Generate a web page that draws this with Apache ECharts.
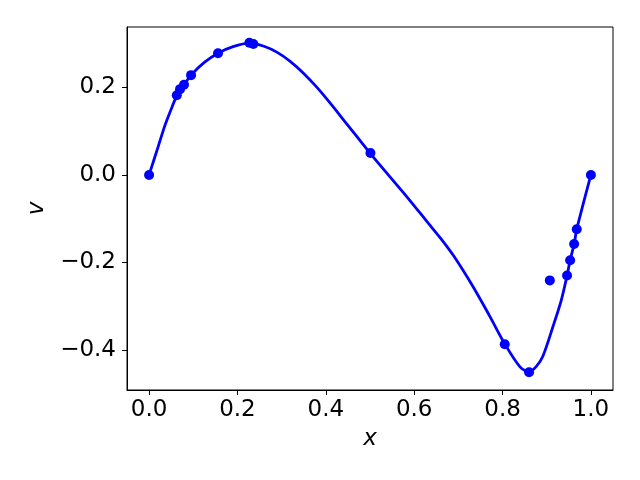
<!DOCTYPE html>
<html>
<head>
<meta charset="utf-8">
<script src="https://cdn.jsdelivr.net/npm/echarts@6/dist/echarts.min.js"></script>
<style>html,body{margin:0;padding:0;background:#fff}#c{width:640px;height:480px}</style>
</head>
<body>
<div id="c"></div>
<script>
// Sample points (markers)
const pointsX = [0.0, 0.0627, 0.070, 0.079, 0.095, 0.156, 0.227, 0.236, 0.501, 0.805, 0.860, 0.907, 0.946, 0.953, 0.962, 0.968, 1.0];
const pointsV = [0.0, 0.182, 0.196, 0.206, 0.228, 0.278, 0.302, 0.299, 0.050, -0.387, -0.451, -0.241, -0.230, -0.195, -0.158, -0.124, 0.0];
// Smooth curve
const curveX = [0.0, 0.0204, 0.0355, 0.0507, 0.0627, 0.070, 0.079, 0.095, 0.125, 0.156, 0.19, 0.227, 0.26, 0.29, 0.32, 0.35, 0.38, 0.41, 0.44, 0.47, 0.5, 0.55, 0.59, 0.63, 0.66, 0.69, 0.73, 0.77, 0.805, 0.839, 0.86, 0.876, 0.891, 0.914, 0.933, 0.946, 0.953, 0.962, 0.968, 1.0];
const curveV = [0.0, 0.064, 0.112, 0.152, 0.181, 0.194, 0.206, 0.228, 0.257, 0.278, 0.293, 0.301, 0.294, 0.280, 0.259, 0.232, 0.200, 0.164, 0.126, 0.088, 0.050, -0.010, -0.058, -0.108, -0.145, -0.186, -0.250, -0.321, -0.386, -0.438, -0.450, -0.438, -0.415, -0.347, -0.286, -0.230, -0.195, -0.158, -0.124, 0.0];
const xTicks = [0.0, 0.2, 0.4, 0.6, 0.8, 1.0];
const yTicks = [-0.4, -0.2, 0.0, 0.2];

const fmt = v => { const s = (Math.abs(v) < 1e-9 ? 0 : v).toFixed(1); return s.replace('-', '\u2212'); };
const font = 'DejaVu Sans';
const chart = echarts.init(document.getElementById('c'), null, {renderer: 'canvas'});
chart.setOption({
  animation: false,
  backgroundColor: '#fff',
  grid: {left: 127, right: 27, top: 27, bottom: 90, show: true, borderColor: '#000', borderWidth: 1, backgroundColor: 'transparent'},
  xAxis: {
    type: 'value', min: -0.05, max: 1.05,
    name: 'x', nameLocation: 'middle', nameGap: 38,
    nameTextStyle: {fontFamily: font, fontSize: 23, fontStyle: 'italic', color: '#000'},
    axisLine: {show: true, onZero: false, lineStyle: {color: '#000', width: 1}},
    axisTick: {show: true, inside: false, length: 5, lineStyle: {color: '#000'}, customValues: xTicks},
    axisLabel: {show: true, margin: 9, fontFamily: font, fontSize: 23, color: '#000', customValues: xTicks, formatter: fmt},
    splitLine: {show: false}
  },
  yAxis: {
    type: 'value', min: -0.4915, max: 0.338,
    name: 'v', nameLocation: 'middle', nameGap: 78, nameRotate: 90,
    nameTextStyle: {fontFamily: font, fontSize: 23, fontStyle: 'italic', color: '#000'},
    axisLine: {show: true, onZero: false, lineStyle: {color: '#000', width: 1}},
    axisTick: {show: true, inside: false, length: 5, lineStyle: {color: '#000'}, customValues: yTicks},
    axisLabel: {show: true, margin: 11, fontFamily: font, fontSize: 23, color: '#000', customValues: yTicks, formatter: fmt},
    splitLine: {show: false}
  },
  series: [
    {
      type: 'line', data: curveX.map((x, i) => [x, curveV[i]]),
      showSymbol: false, smooth: 0.3,
      lineStyle: {color: '#0000ff', width: 2.8}, z: 2
    },
    {
      type: 'scatter', data: pointsX.map((x, i) => [x, pointsV[i]]),
      symbol: 'circle', symbolSize: 10,
      itemStyle: {color: '#0000ff', opacity: 1}, z: 3
    }
  ]
});
</script>
</body>
</html>
